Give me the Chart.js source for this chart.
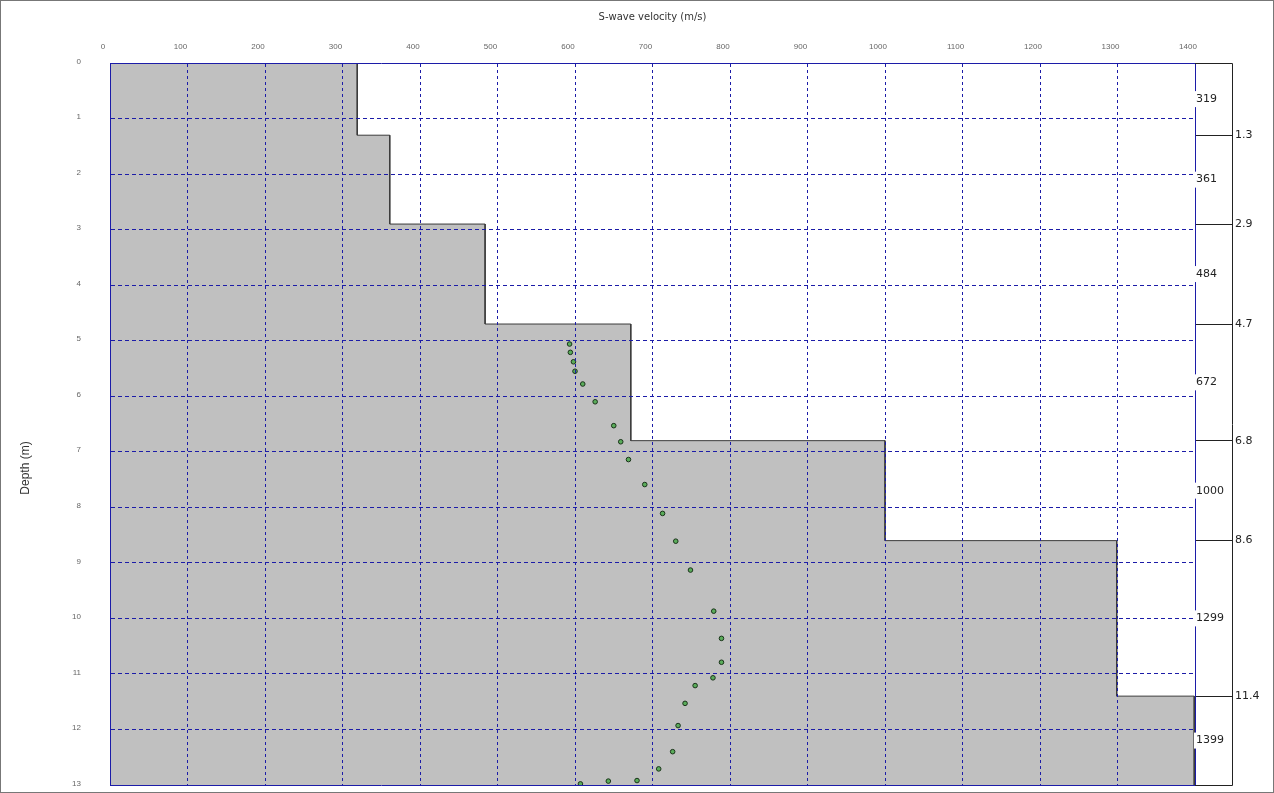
<!DOCTYPE html>
<html>
<head>
<meta charset="utf-8">
<title>S-wave velocity profile</title>
<script src="https://cdn.jsdelivr.net/npm/chart.js@4.4.1/dist/chart.umd.min.js"></script>
<style>
    html, body { margin: 0; padding: 0; background: #fff; }
    #wrap { width: 1274px; height: 793px; }
</style>
</head>
<body>
<div id="wrap"><canvas id="vsChart" width="1274" height="793"></canvas></div>
<script>
// Vrstvy profilu - horní hrana vrstvy (m) a rychlost Vs (m/s)
const layerTops = [0, 1.3, 2.9, 4.7, 6.8, 8.6, 11.4];
const layerVs = [319, 361, 484, 672, 1000, 1299, 1399];
const maxDepth = 13;

// Rozhraní vrstev (popisky vpravo)
const interfaceDepths = [1.3, 2.9, 4.7, 6.8, 8.6, 11.4];

// Naměřené body - rychlost a hloubka
const pointVs = [593, 594, 598, 600, 610, 626, 650, 659, 669, 690, 713, 730, 749, 779, 789, 789, 778, 755, 742, 733, 726, 708, 680, 643, 607];
const pointDepths = [5.06, 5.21, 5.38, 5.55, 5.78, 6.10, 6.53, 6.82, 7.14, 7.59, 8.11, 8.61, 9.13, 9.87, 10.36, 10.79, 11.07, 11.21, 11.53, 11.93, 12.40, 12.71, 12.92, 12.93, 12.98];

// Popisky os
const velocityTicks = [0, 100, 200, 300, 400, 500, 600, 700, 800, 900, 1000, 1100, 1200, 1300, 1400];
const depthTicks = [0, 1, 2, 3, 4, 5, 6, 7, 8, 9, 10, 11, 12, 13];

const NAVY = '#1c1ca8';
const FONT = "'Liberation Sans', Arial, sans-serif";
const FONT_WIDE = "'DejaVu Sans', sans-serif";

// Schodovitý profil z vrstev
const stepPoints = [];
layerVs.forEach((v, i) => {
    const bottom = i < layerTops.length - 1 ? layerTops[i + 1] : maxDepth;
    stepPoints.push({ x: v, y: layerTops[i] });
    stepPoints.push({ x: v, y: bottom });
});

const measured = pointVs.map((v, i) => ({ x: v, y: pointDepths[i] }));

// Svislé osy nemají zvětšovat okraje grafu
const fixVertical = (width) => (s) => {
    s.width = width;
    s.paddingTop = 0;
    s.paddingBottom = 0;
};

// Pravý panel, popisky rychlostí, název osy Y a rámeček
const panelPlugin = {
    id: 'panelPlugin',
    beforeDraw(chart) {
        const ctx = chart.ctx;
        ctx.save();
        ctx.fillStyle = '#fff';
        ctx.fillRect(0, 0, chart.width, chart.height);
        ctx.restore();
    },
    afterDraw(chart) {
        const ctx = chart.ctx;
        const area = chart.chartArea;
        const yScale = chart.scales.y;
        const panelRight = area.right + 37;

        ctx.save();
        ctx.strokeStyle = '#222';
        ctx.lineWidth = 1;
        ctx.beginPath();
        ctx.moveTo(area.right, area.top + 0.5);
        ctx.lineTo(panelRight + 0.5, area.top + 0.5);
        ctx.lineTo(panelRight + 0.5, area.bottom + 0.5);
        ctx.lineTo(area.right, area.bottom + 0.5);
        ctx.stroke();

        // Rychlosti uprostřed vrstev
        ctx.font = '11px ' + FONT_WIDE;
        ctx.textBaseline = 'middle';
        layerVs.forEach((v, i) => {
            const bottom = i < layerTops.length - 1 ? layerTops[i + 1] : maxDepth;
            const yPix = yScale.getPixelForValue((layerTops[i] + bottom) / 2);
            const txt = String(v);
            const w = ctx.measureText(txt).width;
            ctx.fillStyle = '#fff';
            ctx.fillRect(area.right - 1, yPix - 8, w + 4, 16);
            ctx.fillStyle = '#222';
            ctx.fillText(txt, area.right + 1, yPix);
        });

        // Název osy Y
        ctx.save();
        ctx.translate(26, 468);
        ctx.rotate(-Math.PI / 2);
        ctx.font = '12px ' + FONT;
        ctx.fillStyle = '#333';
        ctx.textAlign = 'center';
        ctx.textBaseline = 'middle';
        ctx.fillText('Depth (m)', 0, 0);
        ctx.restore();

        // Vnější rámeček
        ctx.strokeStyle = '#777';
        ctx.strokeRect(0.5, 0.5, chart.width - 1, chart.height - 1);
        ctx.restore();
    }
};

const chart = new Chart(document.getElementById('vsChart').getContext('2d'), {
    type: 'line',
    data: {
        datasets: [{
            label: 'Vs profile',
            data: measured,
            type: 'scatter',
            xAxisID: 'x',
            yAxisID: 'y',
            pointRadius: 2.3,
            pointBorderWidth: 1,
            pointBorderColor: '#1a331a',
            pointBackgroundColor: '#5aac5a',
            showLine: false,
            order: 0
        }, {
            label: 'Layers',
            data: stepPoints,
            indexAxis: 'y',
            xAxisID: 'x',
            yAxisID: 'y',
            borderColor: '#3a3a3a',
            borderWidth: 1,
            backgroundColor: '#c0c0c0',
            fill: 'origin',
            pointRadius: 0,
            tension: 0,
            order: 1
        }]
    },
    options: {
        responsive: false,
        animation: false,
        layout: { padding: 0 },
        plugins: {
            legend: { display: false },
            tooltip: { enabled: false }
        },
        scales: {
            x: {
                type: 'linear',
                position: 'top',
                min: 0,
                max: 1400,
                afterBuildTicks: (s) => { s.ticks = velocityTicks.map(v => ({ value: v })); },
                afterFit: (s) => { s.height = 63; },
                ticks: {
                    font: { family: FONT, size: 8 },
                    color: '#666',
                    padding: 2,
                    labelOffset: -7,
                    maxRotation: 0,
                    autoSkip: false,
                    callback: (v) => String(v)
                },
                grid: { color: NAVY, lineWidth: 1, drawTicks: true, tickLength: 9, tickColor: 'rgba(0,0,0,0)', z: 1 },
                border: { color: NAVY, width: 1, dash: [3, 3], z: 2 },
                title: {
                    display: true,
                    text: 'S-wave velocity (m/s)',
                    font: { family: FONT_WIDE, size: 10 },
                    color: '#333',
                    padding: { top: 11, bottom: 0 }
                }
            },
            xb: {
                type: 'linear',
                position: 'bottom',
                min: 0,
                max: 1400,
                afterFit: (s) => { s.height = 8; },
                ticks: { display: false },
                grid: { display: false, drawTicks: false },
                border: { color: NAVY, width: 1, z: 2 }
            },
            y: {
                type: 'linear',
                position: 'left',
                min: 0,
                max: maxDepth,
                reverse: true,
                afterBuildTicks: (s) => { s.ticks = depthTicks.map(v => ({ value: v })); },
                afterFit: fixVertical(110),
                ticks: {
                    font: { family: FONT, size: 8 },
                    color: '#666',
                    padding: 1,
                    labelOffset: -1.5,
                    autoSkip: false,
                    callback: (v) => String(v)
                },
                grid: { color: NAVY, lineWidth: 1, drawTicks: true, tickLength: 28, tickColor: 'rgba(0,0,0,0)', z: 1 },
                border: { color: NAVY, width: 1, dash: [4, 3], z: 2 }
            },
            yr: {
                type: 'linear',
                position: 'right',
                min: 0,
                max: maxDepth,
                reverse: true,
                afterBuildTicks: (s) => { s.ticks = interfaceDepths.map(v => ({ value: v })); },
                afterFit: fixVertical(79),
                ticks: {
                    font: { family: FONT_WIDE, size: 11 },
                    color: '#222',
                    padding: 3,
                    autoSkip: false,
                    callback: (v) => String(v)
                },
                grid: {
                    drawOnChartArea: false,
                    drawTicks: true,
                    tickLength: 37,
                    tickColor: '#222',
                    tickWidth: 1
                },
                border: { color: NAVY, width: 1, z: 2 }
            }
        }
    },
    plugins: [panelPlugin]
});
</script>
</body>
</html>
